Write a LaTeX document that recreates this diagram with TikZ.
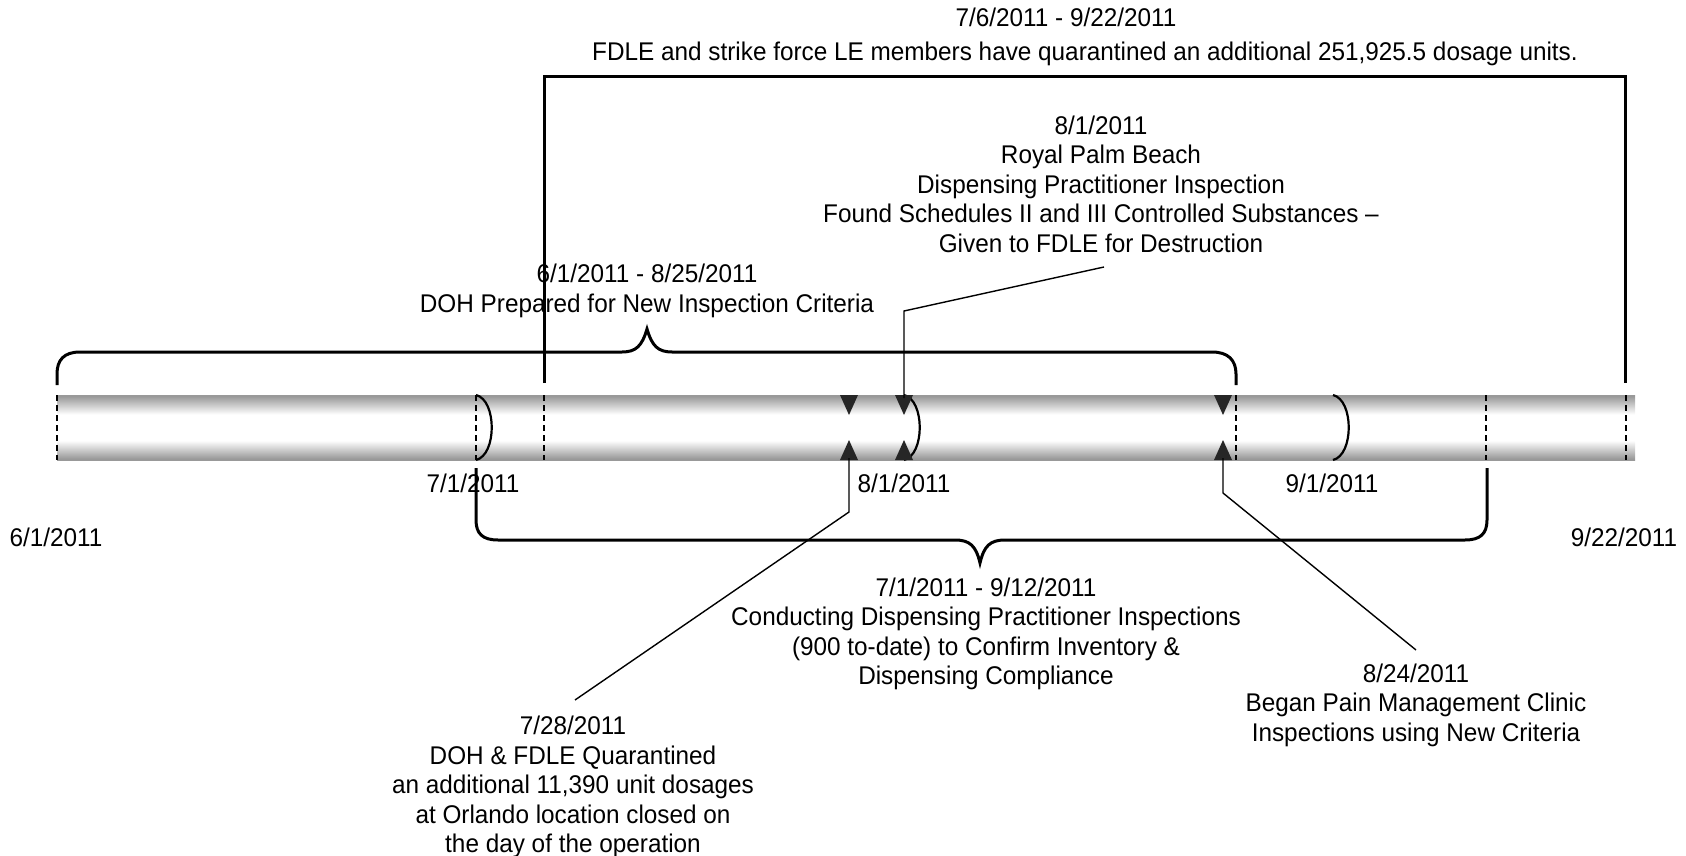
\documentclass[tikz,border=0pt]{standalone}
\usepackage{fontspec}
\setmainfont[FakeStretch=0.95]{Liberation Sans}
\definecolor{bargray}{gray}{0.6}
\pgfdeclareverticalshading{barshade}{100bp}{color(0bp)=(bargray); color(26bp)=(bargray); color(40bp)=(white); color(60bp)=(white); color(74bp)=(bargray); color(100bp)=(bargray)}
\tikzset{
  lbl/.style={font=\fontsize{12.8}{14.75}\selectfont, align=center, inner sep=0pt},
  heavy/.style={line width=1.5pt},
  lead/.style={line width=0.7pt},
  dashtick/.style={line width=1.1pt, dash pattern=on 3pt off 2pt},
  arcline/.style={line width=1.1pt},
  tri/.style={fill=black!85, draw=none},
}
\begin{document}
\begin{tikzpicture}[x=0.5pt,y=-0.5pt]
\useasboundingbox (0,0) rectangle (1686,856);
% timeline bar
\shade[shading=barshade] (57,395) rectangle (1635,460);
\foreach \x in {57,476,544,1236,1486,1626}
  \draw[dashtick] (\x,395) -- (\x,460);
\foreach \x in {476,904,1333}
  \draw[arcline] (\x,395) .. controls (\x+21,400) and (\x+21,455) .. (\x,460);
\foreach \x in {849,904,1223}{
  \fill[tri] (\x-9,395) -- (\x+9,395) -- (\x,415) -- cycle;
  \fill[tri] (\x-9,460) -- (\x+9,460) -- (\x,440) -- cycle;
}
% anchor coordinates
\coordinate (b76) at (544,383);
\coordinate (b922) at (1625,383);
\coordinate (a81) at (904,398);
\coordinate (e81) at (1104,267);
\coordinate (a728) at (849,458);
\coordinate (e728) at (575,700);
\coordinate (a824) at (1223,458);
\coordinate (e824) at (1416,650);
% top bracket
\draw[heavy] (b76) -- (544,77) -- (1625,77) -- (b922);
% top brace
\draw[heavy] (57,385) -- (57,374) .. controls (57,360) and (64,352) .. (80,352) -- (622,352) .. controls (636,352) and (642,346) .. (647,329) .. controls (652,346) and (658,352) .. (672,352) -- (1212,352) .. controls (1228,352) and (1236,360) .. (1236,374) -- (1236,385);
% bottom brace
\draw[heavy] (476,468) -- (476,520) .. controls (476,534) and (483,540) .. (498,540) -- (955,540) .. controls (970,540) and (976,546) .. (980,563) .. controls (984,546) and (990,540) .. (1005,540) -- (1465,540) .. controls (1480,540) and (1487,534) .. (1487,520) -- (1487,468);
% leaders
\draw[lead] (e81) -- (904,311) -- (a81);
\draw[lead] (a728) -- (849,512) -- (e728);
\draw[lead] (a824) -- (1223,493) -- (e824);
% texts
\node[lbl, anchor=base] (top76d) at (1066,27) {7/6/2011 - 9/22/2011};
\node[lbl, anchor=base] (top76t) at (1085,61) {FDLE and strike force LE members have quarantined an additional 251,925.5 dosage units.};
\node[lbl] (t81) at (1101,184) {8/1/2011\\Royal Palm Beach\\Dispensing Practitioner Inspection\\Found Schedules II and III Controlled Substances –\\Given to FDLE for Destruction};
\node[lbl] (t61) at (647,291) {6/1/2011 - 8/25/2011\\DOH Prepared for New Inspection Criteria};
\node[lbl, anchor=base] (l71) at (473,492) {7/1/2011};
\node[lbl, anchor=base] (l81) at (904,492) {8/1/2011};
\node[lbl, anchor=base] (l91) at (1332,492) {9/1/2011};
\node[lbl, anchor=base] (l61) at (56,546) {6/1/2011};
\node[lbl, anchor=base] (l922) at (1624,546) {9/22/2011};
\node[lbl] (t71) at (986,634) {7/1/2011 - 9/12/2011\\Conducting Dispensing Practitioner Inspections\\(900 to-date) to Confirm Inventory \&\\Dispensing Compliance};
\node[lbl] (t728) at (573,787) {7/28/2011\\DOH \& FDLE Quarantined\\an additional 11,390 unit dosages\\at Orlando location closed on\\the day of the operation};
\node[lbl] (t824) at (1416,705) {8/24/2011\\Began Pain Management Clinic\\Inspections using New Criteria};
\end{tikzpicture}
\end{document}
